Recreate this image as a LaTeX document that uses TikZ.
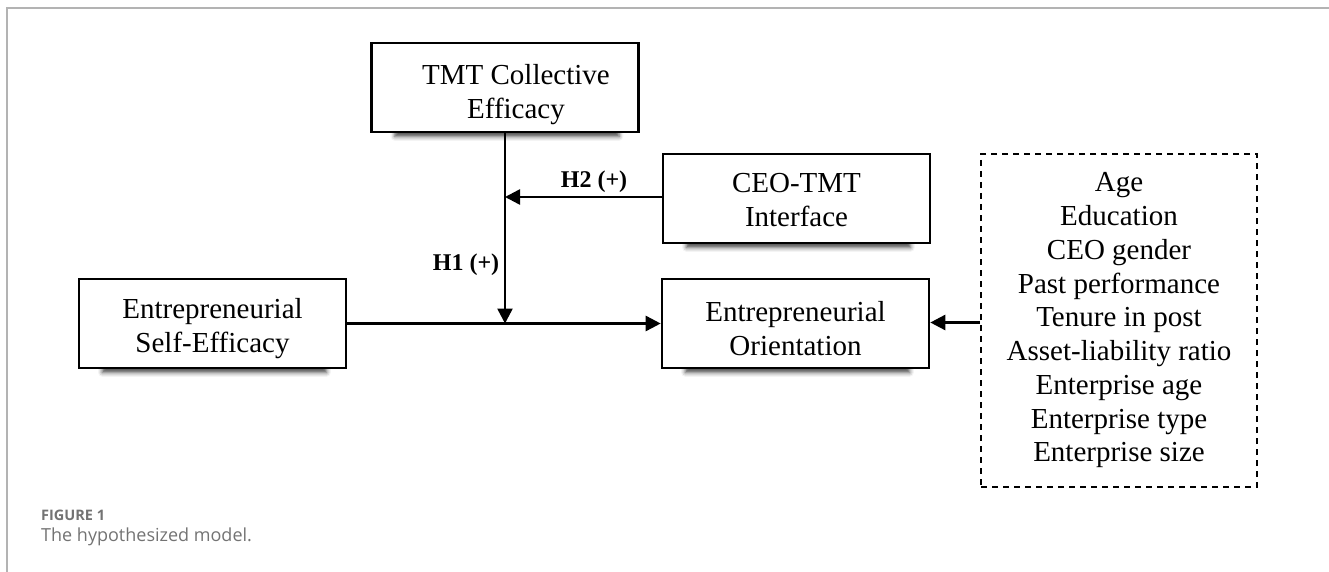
\documentclass[tikz,border=0pt]{standalone}
\usepackage{fontspec}
\setmainfont{Liberation Serif}
\newfontfamily\capfont{Open Sans}
\usetikzlibrary{arrows.meta,shadows.blur}
\definecolor{framegray}{HTML}{B3B3B3}
\definecolor{capgray}{HTML}{737373}
\tikzset{
  mainbox/.style={draw=black, line width=2.6pt, fill=white, minimum width=267pt, minimum height=89pt,
    inner sep=0pt,
    blur shadow={shadow scale=0.84, shadow yshift=-14pt, shadow opacity=70, shadow blur radius=5pt}},
  boxtext/.style={align=center, inner sep=0pt, font=\fontsize{29}{34}\selectfont},
  ctrlbox/.style={draw=black, line width=1.8pt, dash pattern=on 6pt off 5pt, minimum width=276pt, minimum height=333pt,
    align=center, inner sep=0pt, font=\fontsize{29}{33.75}\selectfont},
  conn/.style={line width=2.6pt, -{Triangle[length=15pt,width=15pt]}},
  hyp/.style={font=\fontsize{24}{28}\selectfont\bfseries, inner sep=0pt},
}
\begin{document}
\begin{tikzpicture}[x=1pt,y=-1pt]
\useasboundingbox (0,0) rectangle (1329,572);
% frame
\draw[framegray, line width=2pt] (7,572) -- (7,8) -- (1329,8);
% boxes
\node[mainbox, label={[boxtext, xshift=11pt, yshift=-7pt]center:{TMT Collective\\Efficacy}}] (tmt) at (505,87.5) {};
\node[mainbox, label={[boxtext, yshift=-2pt]center:{CEO-TMT\\Interface}}] (ceo) at (796.5,198.5) {};
\node[mainbox, label={[boxtext, yshift=-5pt]center:{Entrepreneurial\\Self-Efficacy}}] (ese) at (212.5,323.5) {};
\node[mainbox, label={[boxtext, yshift=-5pt]center:{Entrepreneurial\\Orientation}}] (eo) at (795.5,323.5) {};
\node[ctrlbox] (ctrl) at (1119,320.5) {Age\\Education\\CEO gender\\Past performance\\Tenure in post\\Asset-liability ratio\\Enterprise age\\Enterprise type\\Enterprise size};
% connectors
\coordinate (j1) at (tmt.south |- ese.east);
\coordinate (j2) at ([yshift=1.5pt]ceo.west -| tmt.south);
\draw[conn] (ese.east) -- (eo.west);
\draw[conn] (tmt.south) -- (j1);
\draw[conn] ([yshift=1.5pt]ceo.west) -- (j2);
\draw[conn] ([yshift=1pt]eo.east -| ctrl.west) -- ([yshift=1pt]eo.east);
% labels
\node[hyp] (h2) at (594,182) {H2 (+)};
\node[hyp] (h1) at (466,265) {H1 (+)};
% caption
\node[anchor=west, inner sep=0pt, text=capgray, font=\capfont\bfseries\fontsize{14.5}{16}\selectfont] (fig) at (41,515) {FIGURE 1};
\node[anchor=west, inner sep=0pt, text=capgray, font=\capfont\fontsize{18}{20}\selectfont] (cap) at (41,537) {The hypothesized model.};
\end{tikzpicture}
\end{document}
